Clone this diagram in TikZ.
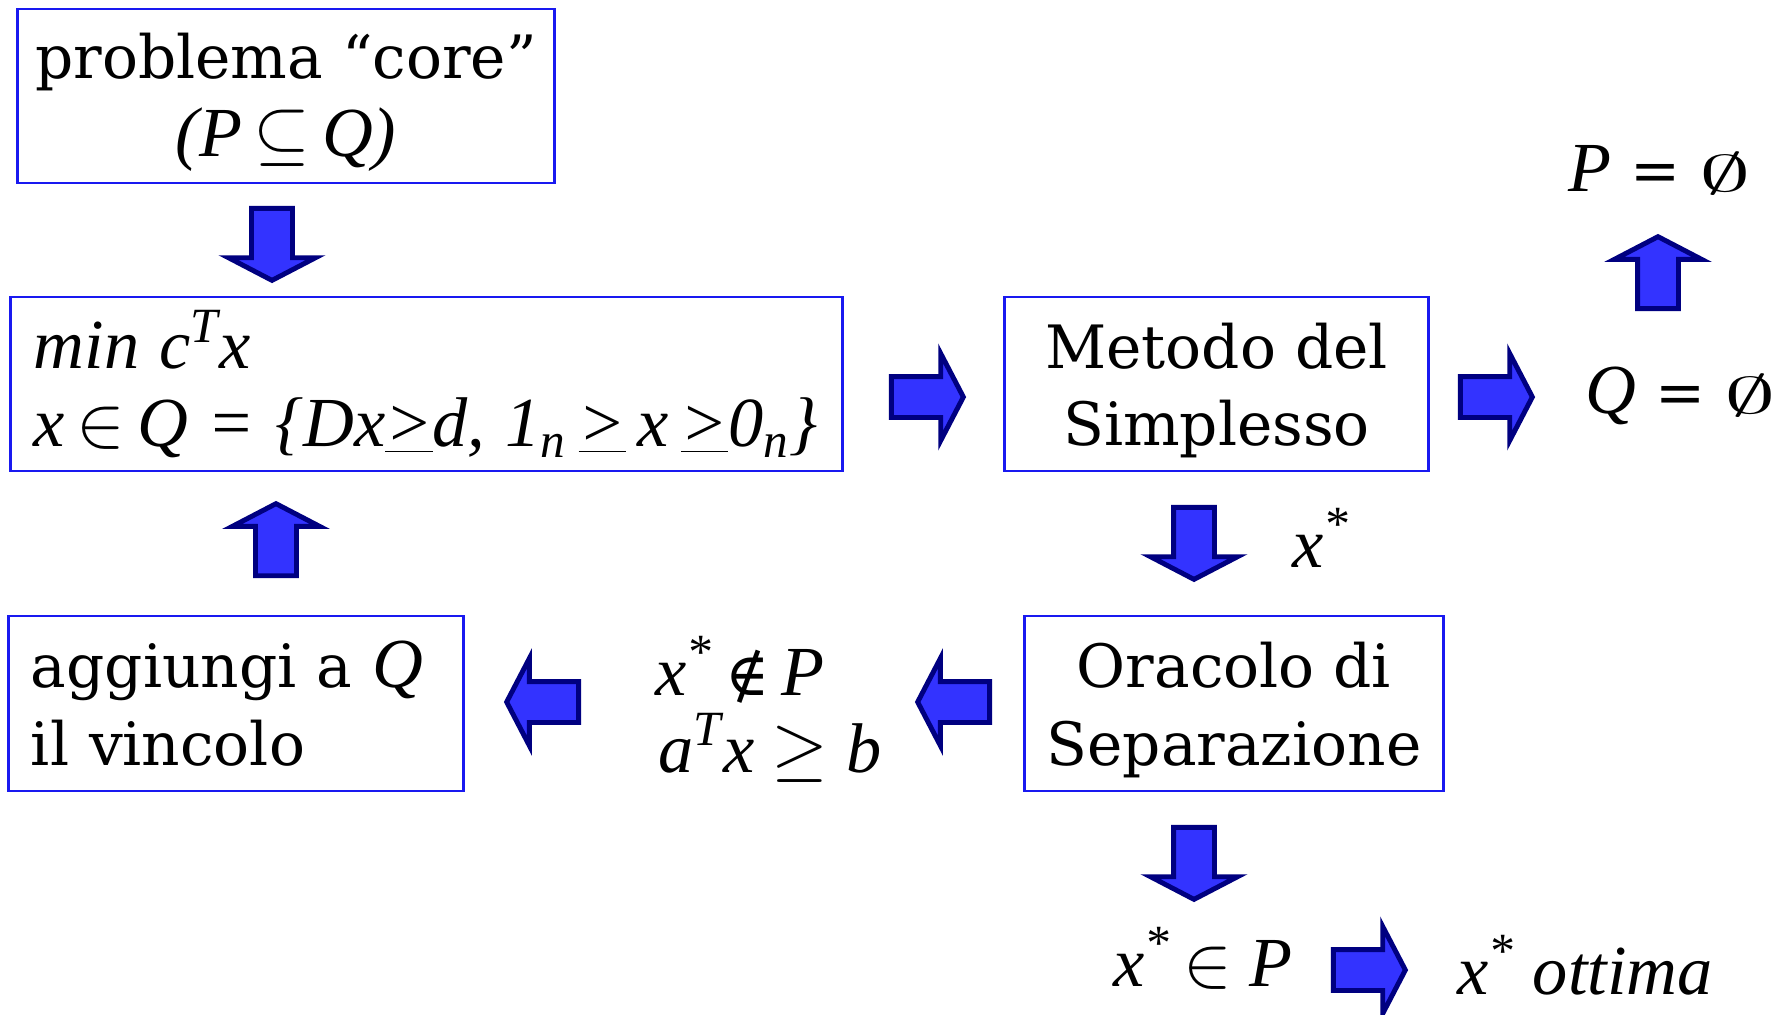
\documentclass[tikz,border=0pt]{standalone}
\usepackage{graphicx}
\usepackage{fontspec}
\setmainfont{DejaVu Serif}
\newfontfamily\timesfont{Liberation Serif}
\usetikzlibrary{shapes.arrows}
\definecolor{boxblue}{RGB}{25,25,240}
\definecolor{arrowfill}{RGB}{51,51,255}
\definecolor{arrowline}{RGB}{0,0,128}
\newcommand{\mth}[1]{{\timesfont\itshape\fontsize{20}{21.6}\selectfont #1}}
\newcommand{\ugeq}{\underline{>}}
\newcommand{\vuoto}{\scalebox{1.7}[0.85]{$\emptyset$}}
\newcommand{\nonin}{{\rmfamily\upshape\fontsize{17}{20}\selectfont ∉}}
\newcommand{\lift}{\rule{0pt}{0.58cm}}
\begin{document}
\begin{tikzpicture}[x=0.01cm, y=-0.01cm,
  every node/.style={font=\fontsize{17}{22}\selectfont},
  box/.style={draw=boxblue, line width=0.8pt, minimum height=1.74cm, inner sep=0pt},
  barrow/.style={single arrow, draw=arrowline, fill=arrowfill, line width=1.4pt,
    minimum height=0.72cm, inner sep=0.18cm, single arrow head extend=0.23cm,
    single arrow tip angle=125}]
  \useasboundingbox (0,0) rectangle (1785,1014);
  % Boxes
  \node[box, minimum width=5.36cm, align=center] (core) at (286,96)
    {\lift problema “core”\\ \mth{(P\,$\subseteq$\,Q)}};
  \node[box, minimum width=8.31cm, text width=7.85cm, align=left] (lp) at (426.5,384)
    {\mbox{\mth{min c\textsuperscript{T}x}}\\
     \mbox{\mth{x\,$\in$\,Q =\ \{Dx\ugeq d,\ 1\textsubscript{n}\,\ugeq\,x\,\ugeq0\textsubscript{n}\}}}};
  \node[box, minimum width=4.23cm, align=center] (simplesso) at (1216.5,384)
    {\lift Metodo del\\Simplesso};
  \node[box, minimum width=4.18cm, minimum height=1.75cm, align=center] (oracolo) at (1234,703.5)
    {\lift Oracolo di\\Separazione};
  \node[box, minimum width=4.54cm, minimum height=1.75cm, text width=4.10cm, align=left] (aggiungi) at (236,703.5)
    {aggiungi a \mth{Q}\\il vincolo};
  % Block arrows
  \node[barrow, rotate=-90] (dn1) at (272,239) {};
  \node[barrow] (rt1) at (922,397) {};
  \node[barrow] (rt2) at (1491,397) {};
  \node[barrow, rotate=90] (up1) at (1658,278) {};
  \node[barrow, rotate=-90] (dn2) at (1194,538) {};
  \node[barrow, rotate=180] (lt1) at (959,702) {};
  \node[barrow, rotate=180] (lt2) at (548,702) {};
  \node[barrow, rotate=90] (up2) at (276,545) {};
  \node[barrow, rotate=-90] (dn3) at (1194,858) {};
  \node[barrow] (rt3) at (1364,970) {};
  % Labels
  \node[anchor=base west, inner sep=0pt] (pvuoto) at (1568,191) {\mth{P} = \vuoto};
  \node[anchor=base west, inner sep=0pt] (qvuoto) at (1585,413) {\mth{Q} = \vuoto};
  \node[anchor=base west, inner sep=0pt] (xstar) at (1292,567) {\mth{x\textsuperscript{*}}};
  \node[anchor=base west, inner sep=0pt] (xnotin) at (655,695) {\mth{x\textsuperscript{*}\,\nonin\,P}};
  \node[anchor=base west, inner sep=0pt] (taglio) at (658,772) {\mth{a\textsuperscript{T}x $\geq$ b}};
  \node[anchor=base west, inner sep=0pt] (xin) at (1113,986) {\mth{x\textsuperscript{*}\,$\in$ P}};
  \node[anchor=base west, inner sep=0pt] (ottima) at (1457,994) {\mth{x\textsuperscript{*} ottima}};
\end{tikzpicture}
\end{document}
